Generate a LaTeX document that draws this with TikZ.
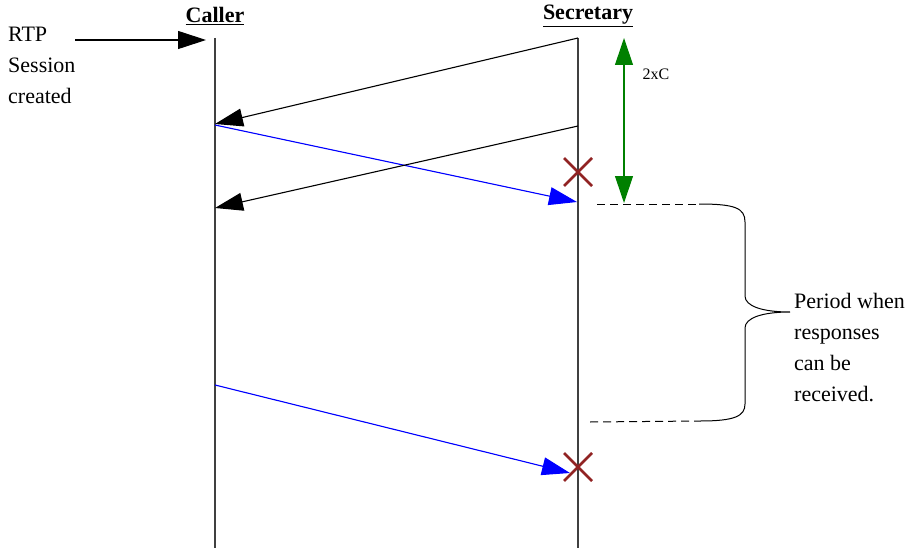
\documentclass[tikz,border=0pt]{standalone}
\usepackage{fontspec}
\setmainfont{Liberation Serif}
\usetikzlibrary{arrows.meta}
\definecolor{msgblue}{RGB}{0,0,255}
\definecolor{darkgreen}{RGB}{0,128,0}
\definecolor{lossred}{RGB}{145,35,35}
\tikzset{
  lifeline/.style={draw=black!75, line width=1.4pt},
  msg/.style={line width=1.1pt, -{Triangle[length=28pt,width=18pt]}},
  lost/.style={draw=lossred, line width=2.6pt},
  guide/.style={line width=1pt, dash pattern=on 8pt off 5pt},
}
\begin{document}
\begin{tikzpicture}[x=1pt,y=-1pt,font=\fontsize{22}{31}\selectfont]
\useasboundingbox (0,0) rectangle (917,548);
% headers
\node (caller) at (215,16) {\underline{\textbf{Caller}}};
\node (secretary) at (588,16) {\underline{\textbf{Secretary}}};
\node[anchor=north west, align=left, inner sep=0pt] (rtp) at (8,27) {RTP\\Session\\created};
% lifelines
\coordinate (ctop) at (215,38);
\coordinate (cbot) at (215,548);
\coordinate (stop) at (578,38);
\coordinate (sbot) at (578,548);
\draw[lifeline] (ctop) -- (cbot);
\draw[lifeline] (stop) -- (sbot);
% messages
\coordinate (rtpstart) at (75,40);
\coordinate (rtpend) at (206,40);
\draw[msg] (rtpstart) -- (rtpend);
\coordinate (s1) at (578,38);
\coordinate (c1) at (215,124);
\draw[msg] (s1) -- (c1);
\coordinate (c2) at (215,125);
\coordinate (s2) at (577,202);
\draw[msg, draw=msgblue, fill=msgblue] (c2) -- (s2);
\coordinate (s3) at (578,126);
\coordinate (c3) at (215,208);
\draw[msg] (s3) -- (c3);
\coordinate (c4) at (215,385);
\coordinate (s4) at (570,473);
\draw[msg, draw=msgblue, fill=msgblue] (c4) -- (s4);
% lost messages
\draw[lost] (564,158) -- (592,186) (564,186) -- (592,158);
\draw[lost] (564,453) -- (592,481) (564,481) -- (592,453);
% timer
\coordinate (ttop) at (624,38);
\coordinate (tbot) at (624,203);
\draw[line width=1.1pt, draw=darkgreen, fill=darkgreen, {Triangle[length=27pt,width=18pt]}-{Triangle[length=27pt,width=18pt]}] (ttop) -- (tbot);
\node[font=\fontsize{16}{18}\selectfont, anchor=west] (twoxc) at (639,74) {2xC};
% response window
\coordinate (w1a) at (597,204);
\coordinate (w1b) at (699,204);
\coordinate (w2a) at (590,422);
\coordinate (w2b) at (700,421);
\coordinate (tip) at (790,312);
\draw[guide] (w1a) -- (w1b);
\draw[guide] (w2a) -- (w2b);
\draw[line width=1pt] (w1b) .. controls (735,204) and (745,208) .. (745,222) -- (745,296)
  .. controls (745,306) and (762,312) .. (tip)
  .. controls (762,312) and (745,318) .. (745,328) -- (745,404)
  .. controls (745,416) and (735,421) .. (w2b);
\node[anchor=west, align=left, inner sep=0pt] (period) at (794,348) {Period when\\responses\\can be\\received.};
\end{tikzpicture}
\end{document}
